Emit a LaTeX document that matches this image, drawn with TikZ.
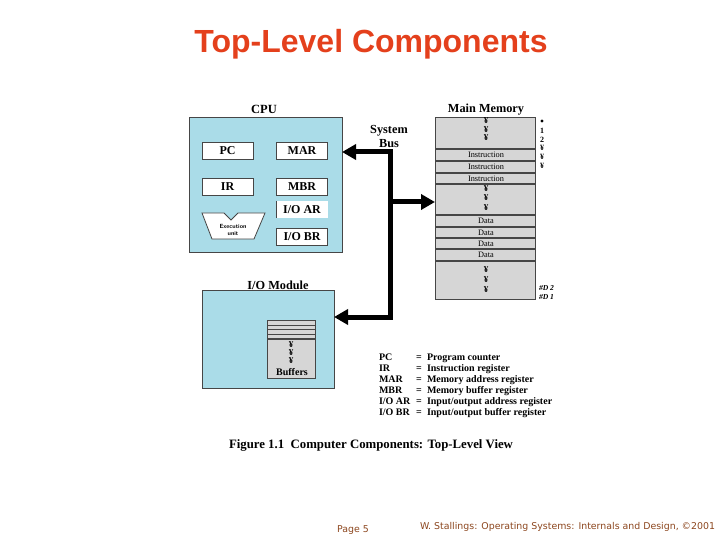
\documentclass[tikz,border=0pt]{standalone}
\usepackage{fontspec}
\setmainfont{Liberation Serif}
\newfontfamily\titlefont{Liberation Sans}
\newfontfamily\footfont{DejaVu Sans}
\usetikzlibrary{arrows.meta}
\definecolor{cpublue}{RGB}{170,220,232}
\definecolor{memgray}{RGB}{214,214,214}
\definecolor{titlered}{RGB}{228,64,28}
\definecolor{footbrown}{RGB}{140,70,30}
\definecolor{edgegray}{RGB}{70,70,70}
\begin{document}
\begin{tikzpicture}[x=1pt,y=-1pt,
  every node/.style={inner sep=0pt,outer sep=0pt},
  unitbox/.style={draw=edgegray,line width=1pt,fill=cpublue,rectangle},
  reg/.style={draw=edgegray,line width=0.8pt,fill=white,minimum width=51pt,minimum height=17pt,font=\bfseries\fontsize{12}{12}\selectfont},
  lbl/.style={font=\bfseries\fontsize{12.3}{12.3}\selectfont},
  tiny/.style={font=\fontsize{8.3}{8.3}\selectfont},
  dotf/.style={font=\bfseries\fontsize{9}{9}\selectfont},
  memline/.style={draw=edgegray,line width=1.3pt},
  bus/.style={line width=5pt,line join=miter,{Triangle[length=14pt,width=15pt]}-{Triangle[length=14pt,width=15pt]}},
  busone/.style={line width=5pt,-{Triangle[length=14pt,width=15pt]}},
  leg/.style={anchor=base west,font=\bfseries\fontsize{10}{10}\selectfont}]
\useasboundingbox (0,0) rectangle (720,540);

% title
\node[font=\titlefont\bfseries\fontsize{32}{32}\selectfont,text=titlered] (title) at (371,44) {Top-Level Components};

% CPU
\node[unitbox,minimum width=153pt,minimum height=134pt] (cpu) at (265.5,185) {};
\node[lbl,font=\bfseries\fontsize{12.5}{12.5}\selectfont] (cpulbl) at (264,109) {CPU};
\node[reg] (pc) at (227.5,151) {PC};
\node[reg] (mar) at (302,151) {MAR};
\node[reg] (ir) at (227.5,186.5) {IR};
\node[reg] (mbr) at (302,186.5) {MBR};
\node[reg,draw=none] (ioar) at (302,209.5) {I/O AR};
\draw[edgegray,line width=0.8pt] (ioar.north west) -- (ioar.south west);
\node[reg] (iobr) at (302,236.5) {I/O BR};
\draw[edgegray,line width=0.8pt,fill=white] (202,213) -- (224,213) -- (231,220) -- (238,213) -- (265,213) -- (254,239) -- (212,239) -- cycle;
\node[font=\sffamily\bfseries\fontsize{6}{6}\selectfont] (exec1) at (233,226) {Execution};
\node[font=\sffamily\bfseries\fontsize{6}{6}\selectfont] (exec2) at (233,234) {unit};

% Main memory
\node[draw=edgegray,line width=1pt,fill=memgray,minimum width=100pt,minimum height=181pt] (mem) at (485,208.5) {};
\node[lbl] (memlbl) at (486,110) {Main Memory};
\foreach \yy in {149,161,173,184,215,227,238,249,261}
  \draw[memline] (mem.west |- 0,\yy) -- (mem.east |- 0,\yy);
\foreach \yy/\nm in {121/a,129.5/b,138/c,189/d,198/e,207.5/f,270/g,280/h,290/i}
  \node[dotf] (dot\nm) at (486,\yy) {¥};
\foreach \yy/\tx/\nm in {155/Instruction/a,167/Instruction/b,178.5/Instruction/c,221/Data/d,232.5/Data/e,243.5/Data/f,255/Data/g}
  \node[tiny] (cell\nm) at (486,\yy) {\tx};
\node[circle,fill=black,minimum size=3.2pt] (addra) at (542,121) {};
\foreach \yy/\tx/\nm in {131/1/b,140/2/c,148/¥/d,157/¥/e,166/¥/f}
  \node[dotf,font=\bfseries\fontsize{8}{8}\selectfont] (addr\nm) at (542,\yy) {\tx};
\node[font=\bfseries\itshape\fontsize{7.6}{7.6}\selectfont,anchor=west] (addrg) at (539,288) {\#D 2};
\node[font=\bfseries\itshape\fontsize{7.6}{7.6}\selectfont,anchor=west] (addrh) at (539,297) {\#D 1};

% I/O module
\node[unitbox,minimum width=132pt,minimum height=98pt] (io) at (268,339) {};
\node[lbl] (iolbl) at (278,285) {I/O Module};
\node[draw=edgegray,line width=0.8pt,fill=memgray,minimum width=48pt,minimum height=58pt] (buf) at (291,349) {};
\foreach \yy in {325,329.5,334}
  \draw[edgegray,line width=0.6pt] (buf.west |- 0,\yy) -- (buf.east |- 0,\yy);
\draw[edgegray,line width=1.2pt] (buf.west |- 0,339) -- (buf.east |- 0,339);
\foreach \yy/\nm in {345/a,353/b,361/c}
  \node[dotf] (bdot\nm) at (291,\yy) {¥};
\node[font=\bfseries\fontsize{10}{10}\selectfont] (buflbl) at (292,372) {Buffers};

% system bus
\node[lbl] (sys1) at (389,131) {System};
\node[lbl] (sys2) at (389,144) {Bus};
\coordinate (bt) at (390,152);
\coordinate (bm) at (390,202);
\coordinate (bb) at (390,317);
\draw[bus] (cpu.east |- bt) -- (bt) -- (bb) -- (io.east |- bb);
\draw[busone] (bm) -- (mem.west |- bm);

% legend
\foreach \yy/\ab/\de/\nm in {360.5/PC/Program counter/a,371.5/IR/Instruction register/b,382.5/MAR/Memory address register/c,393.5/MBR/Memory buffer register/d,404.5/{I/O AR}/{Input/output address register}/e,415/{I/O BR}/{Input/output buffer register}/f}{
  \node[leg] (lab\nm) at (379,\yy) {\ab};
  \node[leg] (leq\nm) at (416,\yy) {=};
  \node[leg] (lde\nm) at (427,\yy) {\de};
}

% caption
\node[font=\bfseries\fontsize{12.8}{12.8}\selectfont] (cap) at (371,445) {Figure 1.1\ \ Computer Components: Top-Level View};

% footer
\node[font=\footfont\fontsize{9.4}{9.4}\selectfont,text=footbrown] (page) at (353,530) {Page 5};
\node[font=\footfont\fontsize{9.4}{9.4}\selectfont,text=footbrown,anchor=west] (auth) at (420,527) {W. Stallings: Operating Systems: Internals and Design, ©2001};
\end{tikzpicture}
\end{document}
